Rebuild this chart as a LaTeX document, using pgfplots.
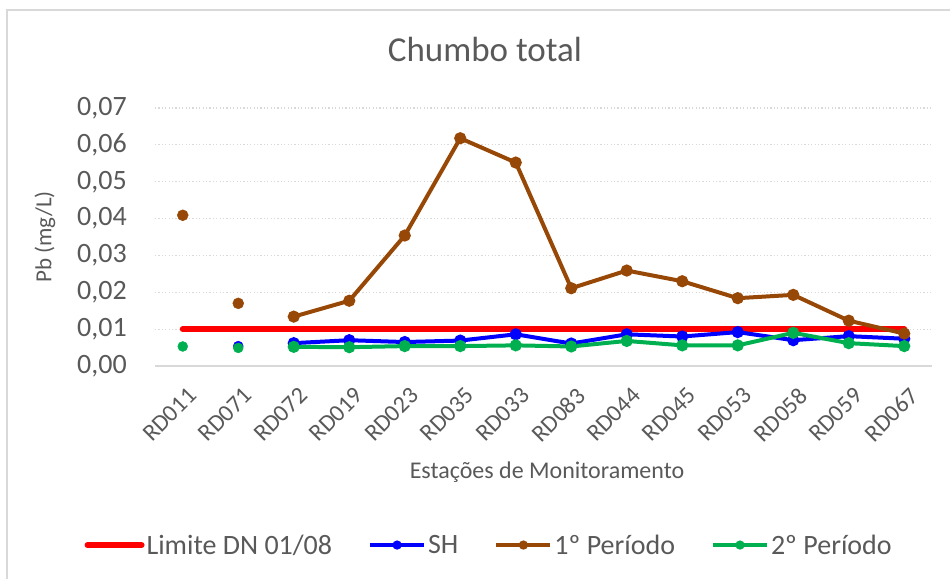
\documentclass[border=0pt]{standalone}
\usepackage{pgfplots}
\pgfplotsset{compat=1.18}
\usepackage{fontspec}
\setmainfont{Carlito}
\definecolor{txt}{HTML}{595959}
\definecolor{gridc}{HTML}{D9D9D9}
\definecolor{limred}{HTML}{FF0000}
\definecolor{shblue}{HTML}{0000FF}
\definecolor{brn}{HTML}{974806}
\definecolor{grn}{HTML}{00B050}
\begin{document}
\begin{tikzpicture}
\path[use as bounding box] (0pt,0pt) rectangle (950pt,579pt);
\draw[gridc, line width=2pt] (7pt,0pt) -- (7pt,569pt) -- (952pt,569pt);
\begin{axis}[
  at={(155pt,213pt)}, anchor=south west,
  scale only axis, width=777pt, height=258pt,
  xmin=-0.5, xmax=13.5, ymin=0, ymax=0.07,
  ytick={0,0.01,...,0.07},
  xtick={0,...,13},
  xticklabels={RD011,RD071,RD072,RD019,RD023,RD035,RD033,RD083,RD044,RD045,RD053,RD058,RD059,RD067},
  axis x line=bottom, axis y line=left,
  y axis line style={draw=none},
  x axis line style={-, draw=gridc, line width=1.5pt},
  major tick length=0pt,
  ymajorgrids, grid style={gridc, line width=1.2pt, dash pattern=on 1.2pt off 2.2pt},
  /pgf/number format/assume math mode=true,
  yticklabel={\pgfmathprintnumber[fixed, fixed zerofill, precision=2, use comma]{\tick}},
  scaled y ticks=false,
  yticklabel style={font=\fontsize{28}{32}\selectfont, text=txt, inner sep=0pt, anchor=east, xshift=-28pt},
  xticklabel style={font=\fontsize{24}{28}\selectfont, text=txt, inner sep=0pt, xshift=4pt, yshift=-20pt, rotate=45, anchor=north east},
  title={Chumbo total},
  title style={font=\fontsize{35}{40}\selectfont, text=txt, at={(0.4247,1.205)}, anchor=center},
  xlabel={Estações de Monitoramento},
  xlabel style={font=\fontsize{24}{28}\selectfont, text=txt, at={(0.5045,-0.411)}, anchor=center},
  ylabel={Pb (mg/L)},
  ylabel style={font=\fontsize{23}{27}\selectfont, text=txt, at={(-0.1416,0.5)}, anchor=center, rotate=0},
  legend columns=4,
  legend style={draw=none, fill=none, at={(0.43,-0.694)}, anchor=center,
    font=\fontsize{28}{32}\selectfont, text=txt,
    /tikz/every even column/.append style={column sep=34pt},
    inner sep=0pt},
  legend image code/.code={%
    \draw[#1, mark=none] (-27pt,0pt) -- (27pt,0pt);
    \path[#1] plot[mark size=2.5pt] coordinates {(0pt,0pt)};},
  legend cell align=left,
]
\addplot[limred, line width=6pt, line cap=round, mark=none] coordinates {(0,0.01) (13,0.01)};
\addlegendentry{Limite DN 01/08}
\addplot[shblue, line width=4pt, mark=*, mark size=4pt, mark options={solid}] coordinates {
(2,0.0062) (3,0.0070) (4,0.0065) (5,0.0069) (6,0.0086) (7,0.0061) (8,0.0086) (9,0.0080) (10,0.0092) (11,0.0070) (12,0.0081) (13,0.0074)};
\addlegendentry{SH}
\addplot[brn, line width=4pt, mark=*, mark size=4pt] coordinates {
(2,0.0134) (3,0.0177) (4,0.0354) (5,0.0618) (6,0.0552) (7,0.0211) (8,0.0259) (9,0.0230) (10,0.0184) (11,0.0193) (12,0.0123) (13,0.0088)};
\addlegendentry{1º Período}
\addplot[grn, line width=4pt, mark=*, mark size=4pt] coordinates {
(2,0.0052) (3,0.0051) (4,0.0054) (5,0.0054) (6,0.0056) (7,0.0053) (8,0.0068) (9,0.0056) (10,0.0056) (11,0.0090) (12,0.0062) (13,0.0054)};
\addlegendentry{2º Período}
\addplot[forget plot, only marks, brn, mark=*, mark size=5.5pt] coordinates {(0,0.0409) (1,0.0170)};
\addplot[forget plot, only marks, shblue, mark=*, mark size=5pt] coordinates {(1,0.0054)};
\addplot[forget plot, only marks, grn, mark=*, mark size=5pt] coordinates {(0,0.0053) (1,0.0049)};
\end{axis}
\end{tikzpicture}
\end{document}
